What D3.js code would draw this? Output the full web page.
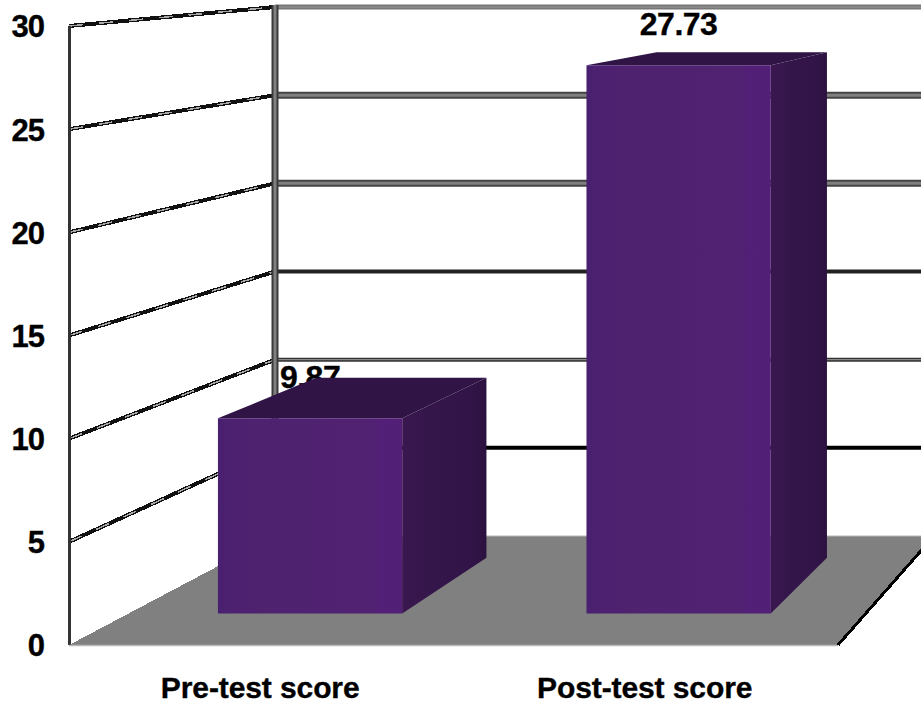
<!DOCTYPE html>
<html>
<head>
<meta charset="utf-8">
<script src="https://cdn.jsdelivr.net/npm/d3@7"></script>
<style>
  html, body { margin: 0; background: #fff; }
  svg { display: block; }
  text { font-family: "Liberation Sans", Arial, sans-serif; font-weight: 700; fill: #000; stroke: #000; stroke-width: 0.35px; }
</style>
</head>
<body>
<svg id="chart" width="921" height="709"></svg>
<script>
// Chart values
const categories = ["Pre-test score", "Post-test score"];
const scores = [9.87, 27.73];
const scoreLabels = ["9.87", "27.73"];
const tickValues = [0, 5, 10, 15, 20, 25, 30];

// Stroke style of each back-wall grid line, bottom to top (0 is the floor edge)
const gridEdge = ["#b8b8b8", "#000", "#333", "#222", "#444", "#444", "#777"];
const gridCore = [null, null, "#9a9a9a", null, "#808080", "#808080", "#999"];
const gridWidth = [1, 4, 4, 4, 7, 7, 5];

const width = 921, height = 709;
const svg = d3.select("#chart");

// Oblique projection of the 3D box: u runs along the category axis,
// depth runs from the front plane (0) to the back wall (1).
const frontY = d3.scaleLinear().domain([0, 30]).range([645, 26]);
const backY = d3.scaleLinear().domain([0, 30]).range([536, 7]);
const frontX = d3.scaleLinear().domain([0, 1]).range([69, 838]);
const backX = d3.scaleLinear().domain([0, 1]).range([275, 934]);
const uBand = d3.scaleBand().domain(categories).range([-0.004, 0.996])
  .paddingInner(0.5).paddingOuter(0.25);

const project = (u, v, depth) => [
  d3.interpolateNumber(frontX(u), backX(u))(depth),
  d3.interpolateNumber(frontY(v), backY(v))(depth)
];
const barFrontDepth = 0.29, barBackDepth = 0.8;
const poly = pts => d3.line()(pts) + "Z";

const defs = svg.append("defs");
const faceGrad = defs.append("linearGradient").attr("id", "faceShade");
[[0, "#47206f"], [0.05, "#4c2170"], [0.2, "#4f2270"], [0.82, "#502271"], [0.9, "#531f78"], [1, "#512075"]]
  .forEach(([o, c]) => faceGrad.append("stop").attr("offset", o).attr("stop-color", c));
const sideGrad = defs.append("linearGradient").attr("id", "sideShade");
[[0, "#3a174f"], [0.3, "#35164b"], [0.8, "#321448"], [1, "#2c1240"]]
  .forEach(([o, c]) => sideGrad.append("stop").attr("offset", o).attr("stop-color", c));

// Floor
svg.append("path")
  .attr("d", poly([project(0, 0, 0), project(0, 0, 1), project(1, 0, 1), project(1, 0, 0)]))
  .attr("fill", "#808080")
  .attr("shape-rendering", "crispEdges");

// Side-wall grid lines
const sideLines = svg.append("g").attr("shape-rendering", "crispEdges");
tickValues.filter(v => v > 0).forEach(v => {
  const p = d3.line()([project(0, v, 0), project(0, v, 1)]);
  sideLines.append("path").attr("d", p).attr("stroke", "#111").attr("stroke-width", 4).attr("fill", "none");
  sideLines.append("path").attr("d", p).attr("stroke", "#a8a8a8").attr("stroke-width", 1.5)
    .attr("stroke-dasharray", "14 16").attr("fill", "none");
});

// Back-wall grid lines
const grid = svg.append("g");
tickValues.forEach((v, i) => {
  const y = backY(v);
  grid.append("line").attr("x1", backX(0)).attr("x2", width).attr("y1", y).attr("y2", y)
    .attr("stroke", gridEdge[i]).attr("stroke-width", gridWidth[i]);
  if (gridCore[i]) {
    grid.append("line").attr("x1", backX(0)).attr("x2", width).attr("y1", y).attr("y2", y)
      .attr("stroke", gridCore[i]).attr("stroke-width", Math.max(1, gridWidth[i] - 4));
  }
});

// Wall corners
svg.append("line").attr("x1", backX(0)).attr("x2", backX(0))
  .attr("y1", backY(30) - 2).attr("y2", backY(0))
  .attr("stroke", "#3a3a3a").attr("stroke-width", 7);
svg.append("line").attr("x1", backX(0)).attr("x2", backX(0))
  .attr("y1", backY(30) - 2).attr("y2", backY(0))
  .attr("stroke", "#808080").attr("stroke-width", 3);
svg.append("line").attr("x1", frontX(0) + 0.5).attr("x2", frontX(0) + 0.5)
  .attr("y1", frontY(30)).attr("y2", frontY(0))
  .attr("stroke", "#333").attr("stroke-width", 3);

// Floor's front and right edges
svg.append("line").attr("x1", frontX(0)).attr("x2", frontX(1))
  .attr("y1", frontY(0) + 0.5).attr("y2", frontY(0) + 0.5)
  .attr("stroke", "#b8b8b8").attr("stroke-width", 1.5);
svg.append("path")
  .attr("d", d3.line()([project(1, 0, 0), project(1, 0, 1)]))
  .attr("stroke", "#000").attr("stroke-width", 3).attr("fill", "none")
  .attr("shape-rendering", "crispEdges");

// Value labels sit behind the bars; the shorter bar's top overlaps its label
svg.append("g").selectAll("text").data(categories).join("text")
  .attr("x", (c, i) => {
    const u0 = uBand(c), u1 = u0 + uBand.bandwidth();
    return (project(u0, scores[i], barFrontDepth)[0] + project(u1, scores[i], barFrontDepth)[0]) / 2;
  })
  .attr("y", (c, i) => project(uBand(c), scores[i], barFrontDepth)[1] - 30)
  .attr("text-anchor", "middle")
  .attr("font-size", 32)
  .attr("letter-spacing", -0.5)
  .text((c, i) => scoreLabels[i]);

// Bars: top, side and front faces
const bars = svg.append("g").selectAll("g").data(categories).join("g");
bars.each(function (c, i) {
  const g = d3.select(this);
  const u0 = uBand(c), u1 = u0 + uBand.bandwidth(), v = scores[i];
  const fbl = project(u0, 0, barFrontDepth), fbr = project(u1, 0, barFrontDepth);
  const ftl = project(u0, v, barFrontDepth), ftr = project(u1, v, barFrontDepth);
  const btl = project(u0, v, barBackDepth), btr = project(u1, v, barBackDepth);
  const bbr = project(u1, 0, barBackDepth);
  g.append("path").attr("d", poly([ftl, btl, btr, ftr])).attr("fill", "#2f1445");
  g.append("path").attr("d", poly([fbr, ftr, btr, bbr])).attr("fill", "url(#sideShade)");
  g.append("path").attr("d", poly([fbl, ftl, ftr, fbr])).attr("fill", "url(#faceShade)");
});

// Value axis labels
const yAxis = d3.axisLeft(frontY).tickValues(tickValues).tickSize(0).tickPadding(0);
const axisG = svg.append("g").attr("transform", "translate(44,1)").call(yAxis);
axisG.select(".domain").remove();
axisG.selectAll("text")
  .attr("font-size", 31)
  .attr("font-family", "Liberation Sans")
  .attr("letter-spacing", -1)
  .style("fill", "#000");

// Category labels
svg.append("g").selectAll("text").data(categories).join("text")
  .attr("x", c => frontX(uBand(c) + uBand.bandwidth() / 2) + 2)
  .attr("y", 698)
  .attr("text-anchor", "middle")
  .attr("font-size", 30)
  .attr("letter-spacing", -0.1)
  .text(c => c);
</script>
</body>
</html>
